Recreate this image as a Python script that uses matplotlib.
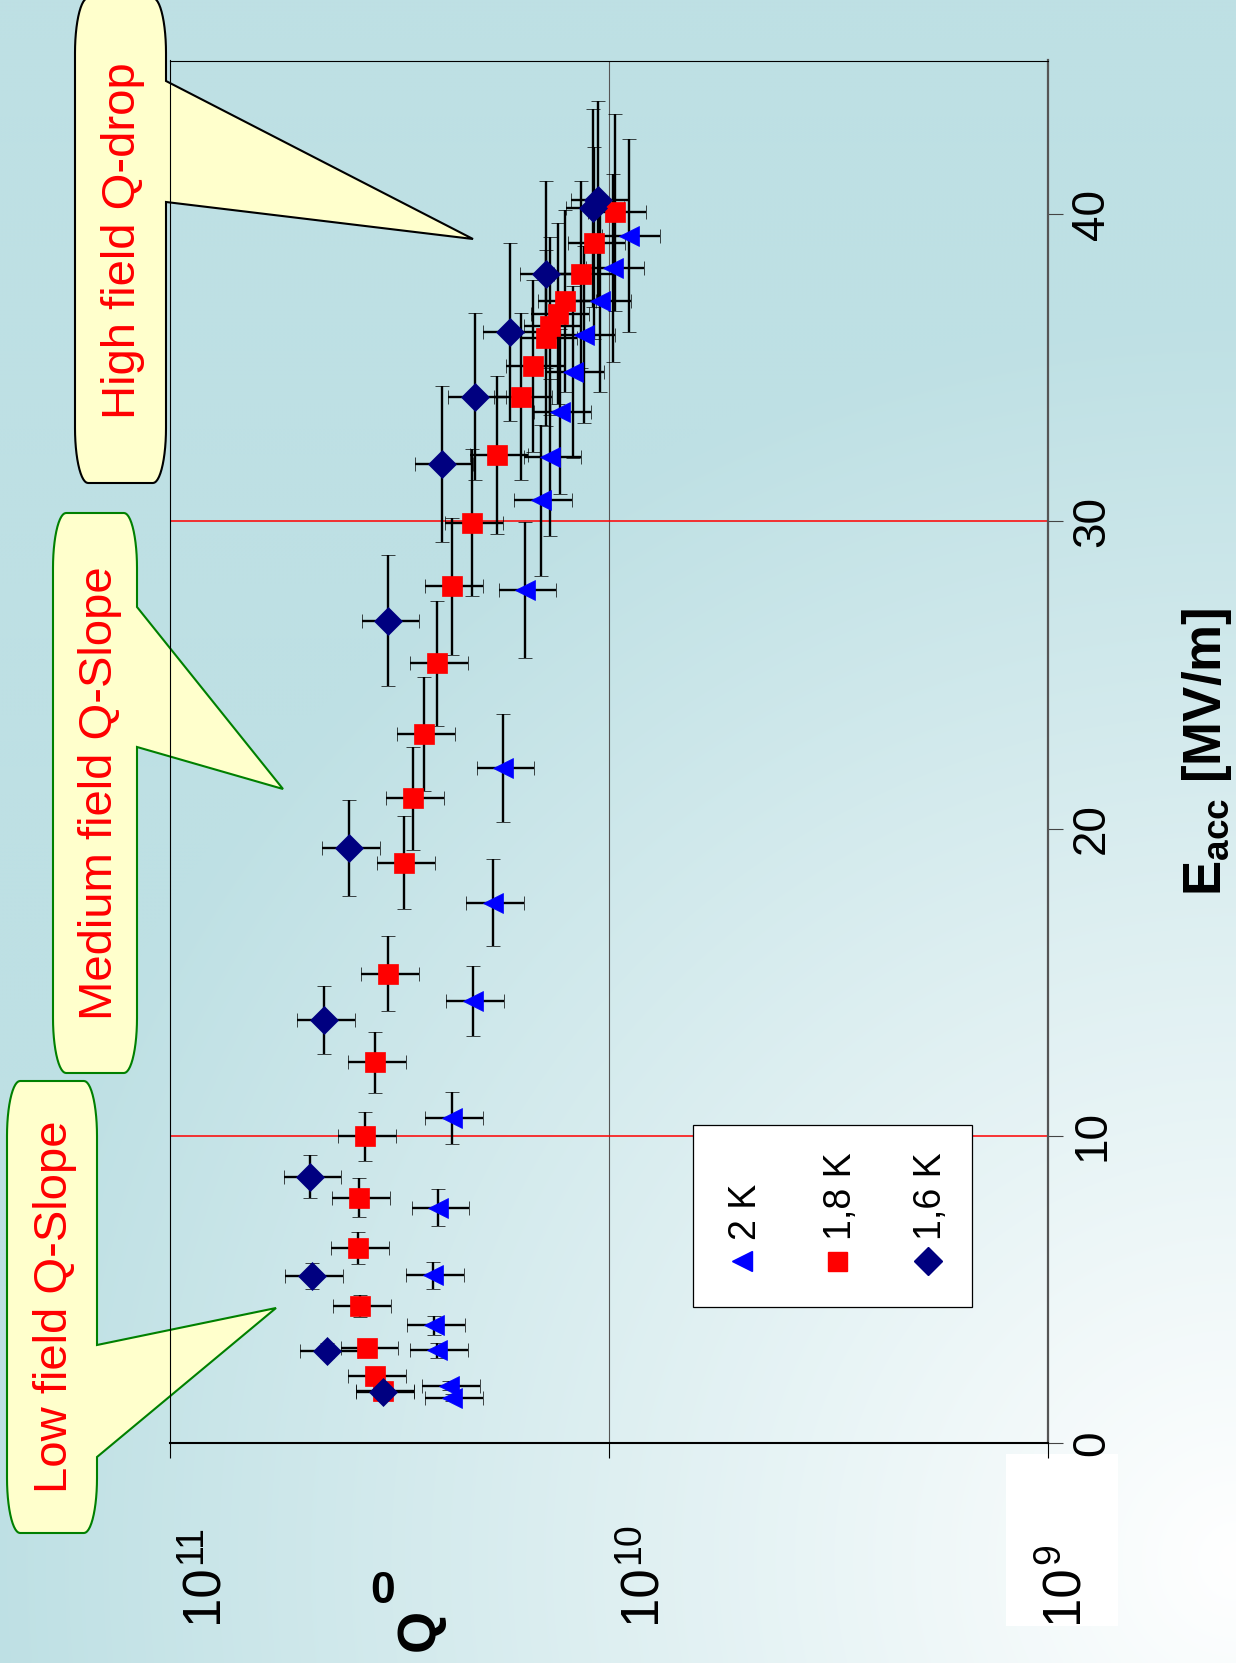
import numpy as np
import matplotlib
matplotlib.use("Agg")
import matplotlib.pyplot as plt
import matplotlib.transforms as mtransforms
from matplotlib import font_manager
from matplotlib.patches import Polygon, Rectangle
from matplotlib.ticker import NullLocator

plt.rcParams['font.family'] = ['Liberation Sans', 'DejaVu Sans']
plt.rcParams['mathtext.fontset'] = 'custom'
plt.rcParams['mathtext.rm'] = 'Liberation Sans'
plt.rcParams['mathtext.bf'] = 'Liberation Sans:bold'

# data: Eacc [MV/m] and Q0
eacc_2k = [1.47, 1.86, 3.02, 3.83, 5.46, 7.66, 10.58, 14.39, 17.59, 21.97,
           27.77, 30.68, 32.08, 33.56, 34.86, 36.08, 37.17, 38.25, 39.30]
q0_2k = [2.28e10, 2.32e10, 2.47e10, 2.51e10, 2.52e10, 2.45e10, 2.28e10, 2.04e10,
         1.84e10, 1.74e10, 1.55e10, 1.43e10, 1.36e10, 1.29e10, 1.21e10, 1.14e10,
         1.05e10, 0.98e10, 0.90e10]

eacc_18k = [1.70, 2.18, 3.10, 4.46, 6.35, 7.98, 9.98, 12.39, 15.28, 18.89, 20.98,
            23.08, 25.38, 27.88, 29.96, 32.17, 34.06, 35.06, 35.97, 36.36, 36.76,
            37.17, 38.05, 39.05, 40.06]
q0_18k = [3.27e10, 3.41e10, 3.55e10, 3.69e10, 3.73e10, 3.71e10, 3.60e10, 3.41e10,
          3.19e10, 2.93e10, 2.80e10, 2.64e10, 2.47e10, 2.28e10, 2.05e10, 1.80e10,
          1.59e10, 1.49e10, 1.39e10, 1.36e10, 1.31e10, 1.26e10, 1.16e10, 1.08e10,
          0.97e10]

eacc_16k = [1.66, 3.00, 5.44, 8.67, 13.78, 19.37, 26.77, 31.87, 34.06, 36.16,
            38.05, 40.20, 40.45]
q0_16k = [3.27e10, 4.40e10, 4.75e10, 4.79e10, 4.46e10, 3.91e10, 3.18e10, 2.40e10,
          2.02e10, 1.68e10, 1.39e10, 1.09e10, 1.06e10]

eacc_rel_err = 0.08
q0_rel_err = 0.15

legend_labels = ["2 K", "1,8 K", "1,6 K"]
series_colors = ["#0000ff", "#ff0000", "#000080"]
series_markers = ["<", "s", "D"]

eacc_ticks = [0, 10, 20, 30, 40]
q0_ticks = [1e11, 1e10, 1e9]
q0_tick_exp = ["11", "10", "9"]
region_limits = [10, 30]
callout_texts = ["Low field Q-Slope", "Medium field Q-Slope", "High field Q-drop"]

W, H = 1236, 1663
fig = plt.figure(figsize=(W / 100, H / 100), dpi=100)

# background gradient, pixel coordinates
bg = fig.add_axes([0, 0, 1, 1], zorder=-10)
yy, xx = np.mgrid[0:H:4, 0:W:4]
t = np.clip(np.hypot(W - xx, 1560 - yy) / 1250.0, 0, 1)[..., None]
teal = np.array([190, 224, 228]) / 255.0
img = (1 - t) * np.array([1.0, 1.0, 1.0]) + t * teal
bg.imshow(img, extent=[0, W, H, 0], aspect='auto', interpolation='bilinear')
bg.set_xlim(0, W)
bg.set_ylim(H, 0)
bg.axis('off')
bg.add_patch(Rectangle((1006, 1454), 112, 172, fc='white', ec='none'))


def bubble(x0, x1, y0, y1, ya, yb, tip, ec, text, tx):
    rx, ry = 13, 55
    pts = []
    for (cx, cy, a0) in [(x0 + rx, y0 + ry, 180), (x1 - rx, y0 + ry, 270)]:
        a = np.radians(np.linspace(a0, a0 + 90, 14))
        pts += list(zip(cx + rx * np.cos(a), cy + ry * np.sin(a)))
    pts += [(x1, ya), tip, (x1, yb)]
    for (cx, cy, a0) in [(x1 - rx, y1 - ry, 0), (x0 + rx, y1 - ry, 90)]:
        a = np.radians(np.linspace(a0, a0 + 90, 14))
        pts += list(zip(cx + rx * np.cos(a), cy + ry * np.sin(a)))
    bg.add_patch(Polygon(pts, closed=True, fc='#ffffcc', ec=ec, lw=1.5))
    bg.text(tx, (y0 + y1) / 2, text, rotation=90, ha='center', va='center',
            fontsize=34, color='#ff0000')


bubble(7, 97, 1081, 1533, 1345, 1457, (276, 1308), '#008000', callout_texts[0], 55)
bubble(53, 137, 513, 1073, 607, 747, (283, 789), '#008000', callout_texts[1], 100)
bubble(75, 166, -2, 483, 81, 202, (473, 239), 'black', callout_texts[2], 123)

# main chart, drawn rotated: Q0 runs to the left, Eacc runs up
ax = fig.add_axes([170 / W, 220 / H, 878 / W, 1382.5 / H], zorder=0)
ax.set_facecolor('none')
ax.set_xscale('log')
ax.set_xlim(1e11, 1e9)
ax.set_ylim(0, 45)
ax.xaxis.set_minor_locator(NullLocator())
ax.set_xticks(q0_ticks)
ax.tick_params(axis='x', which='major', direction='out', length=11, width=0.8,
               labelbottom=False, color='black')
ax.yaxis.tick_right()
ax.set_yticks(eacc_ticks)
ax.tick_params(axis='y', direction='out', length=11, width=0.8, color='#444444',
               labelsize=33, labelrotation=90, pad=5)
for lbl in ax.get_yticklabels():
    lbl.set_va('center')

ax.spines['left'].set_linewidth(0.8)
ax.spines['top'].set_linewidth(0.8)
ax.spines['bottom'].set_linewidth(1.5)
ax.spines['right'].set_linewidth(1.6)
ax.spines['right'].set_color('#555555')
ax.axvline(1e10, color='#555555', lw=0.8, zorder=1)
for e in region_limits:
    ax.axhline(e, color='#ff0000', lw=1.1, zorder=1)

series = [(eacc_2k, q0_2k), (eacc_18k, q0_18k), (eacc_16k, q0_16k)]
sizes = [15, 14.4, 14.5]
for (ea, q), col, mk, ms in zip(series, series_colors, series_markers, sizes):
    ea = np.array(ea)
    q = np.array(q)
    ax.errorbar(q, ea, xerr=q0_rel_err * q, yerr=eacc_rel_err * ea, fmt=mk,
                color=col, ms=ms, mec=col, mew=0.5, ecolor='black',
                elinewidth=1.7, capsize=5, capthick=1.7, zorder=3)

# E_acc axis label
ax.yaxis.set_label_position('right')
ax.set_ylabel(r'$\mathbf{E_{acc}}$ [MV/m]', fontsize=38, fontweight='bold',
              rotation=90)
ax.yaxis.set_label_coords((1180 - 170) / 878, 0.5)
ax.yaxis.label.set_va('top')

# Q0 tick labels, written as 10 with a raised exponent
names = {f.name for f in font_manager.fontManager.ttflist}
narrow = 'Liberation Sans Narrow' in names
qfont = 'Liberation Sans Narrow' if narrow else 'Liberation Sans'
base_fs, exp_fs = (44, 29) if narrow else (38, 27)
offsets = {1e11: (33, 21), 1e10: (32, 20), 1e9: (15, 1)}
for v, ex in zip(q0_ticks, q0_tick_exp):
    dxb, dxe = offsets[v]
    tb = mtransforms.offset_copy(ax.get_xaxis_transform(), fig=fig, x=dxb, y=0, units='dots')
    te = mtransforms.offset_copy(ax.get_xaxis_transform(), fig=fig, x=dxe, y=0, units='dots')
    ax.text(v, -0.1304, "10", transform=tb, rotation=90, ha='center', va='bottom',
            fontsize=base_fs, family=qfont, clip_on=False)
    ax.text(v, -0.0875, ex, transform=te, rotation=90, ha='center', va='bottom',
            fontsize=exp_fs, family=qfont, clip_on=False)

# Q0 axis label
ax.text(0.2847, -0.1508, "Q", transform=ax.transAxes, rotation=90, ha='center',
        va='bottom', fontsize=39, fontweight='bold', clip_on=False)
ax.text(0.2420, -0.1074, "0", transform=ax.transAxes, ha='center',
        va='center', fontsize=32, fontweight='bold', clip_on=False)

# legend box, rotated like the rest
ax.add_patch(Rectangle((0.5953, 0.0986), 0.3176, 0.1314, transform=ax.transAxes,
                       fc='white', ec='black', lw=0.9, zorder=5))
for lx, lab, col, mk, ms in zip([0.6515, 0.7597, 0.8633], legend_labels,
                                series_colors, series_markers, sizes):
    ax.plot([lx], [0.1319], marker=mk, color=col, ms=ms * 0.95, mec=col,
            transform=ax.transAxes, zorder=6, clip_on=False)
    ax.text(lx + 0.004, 0.1468, lab, transform=ax.transAxes, rotation=90,
            ha='center', va='bottom', fontsize=27, zorder=6)

fig.savefig("out.png", dpi=100)
